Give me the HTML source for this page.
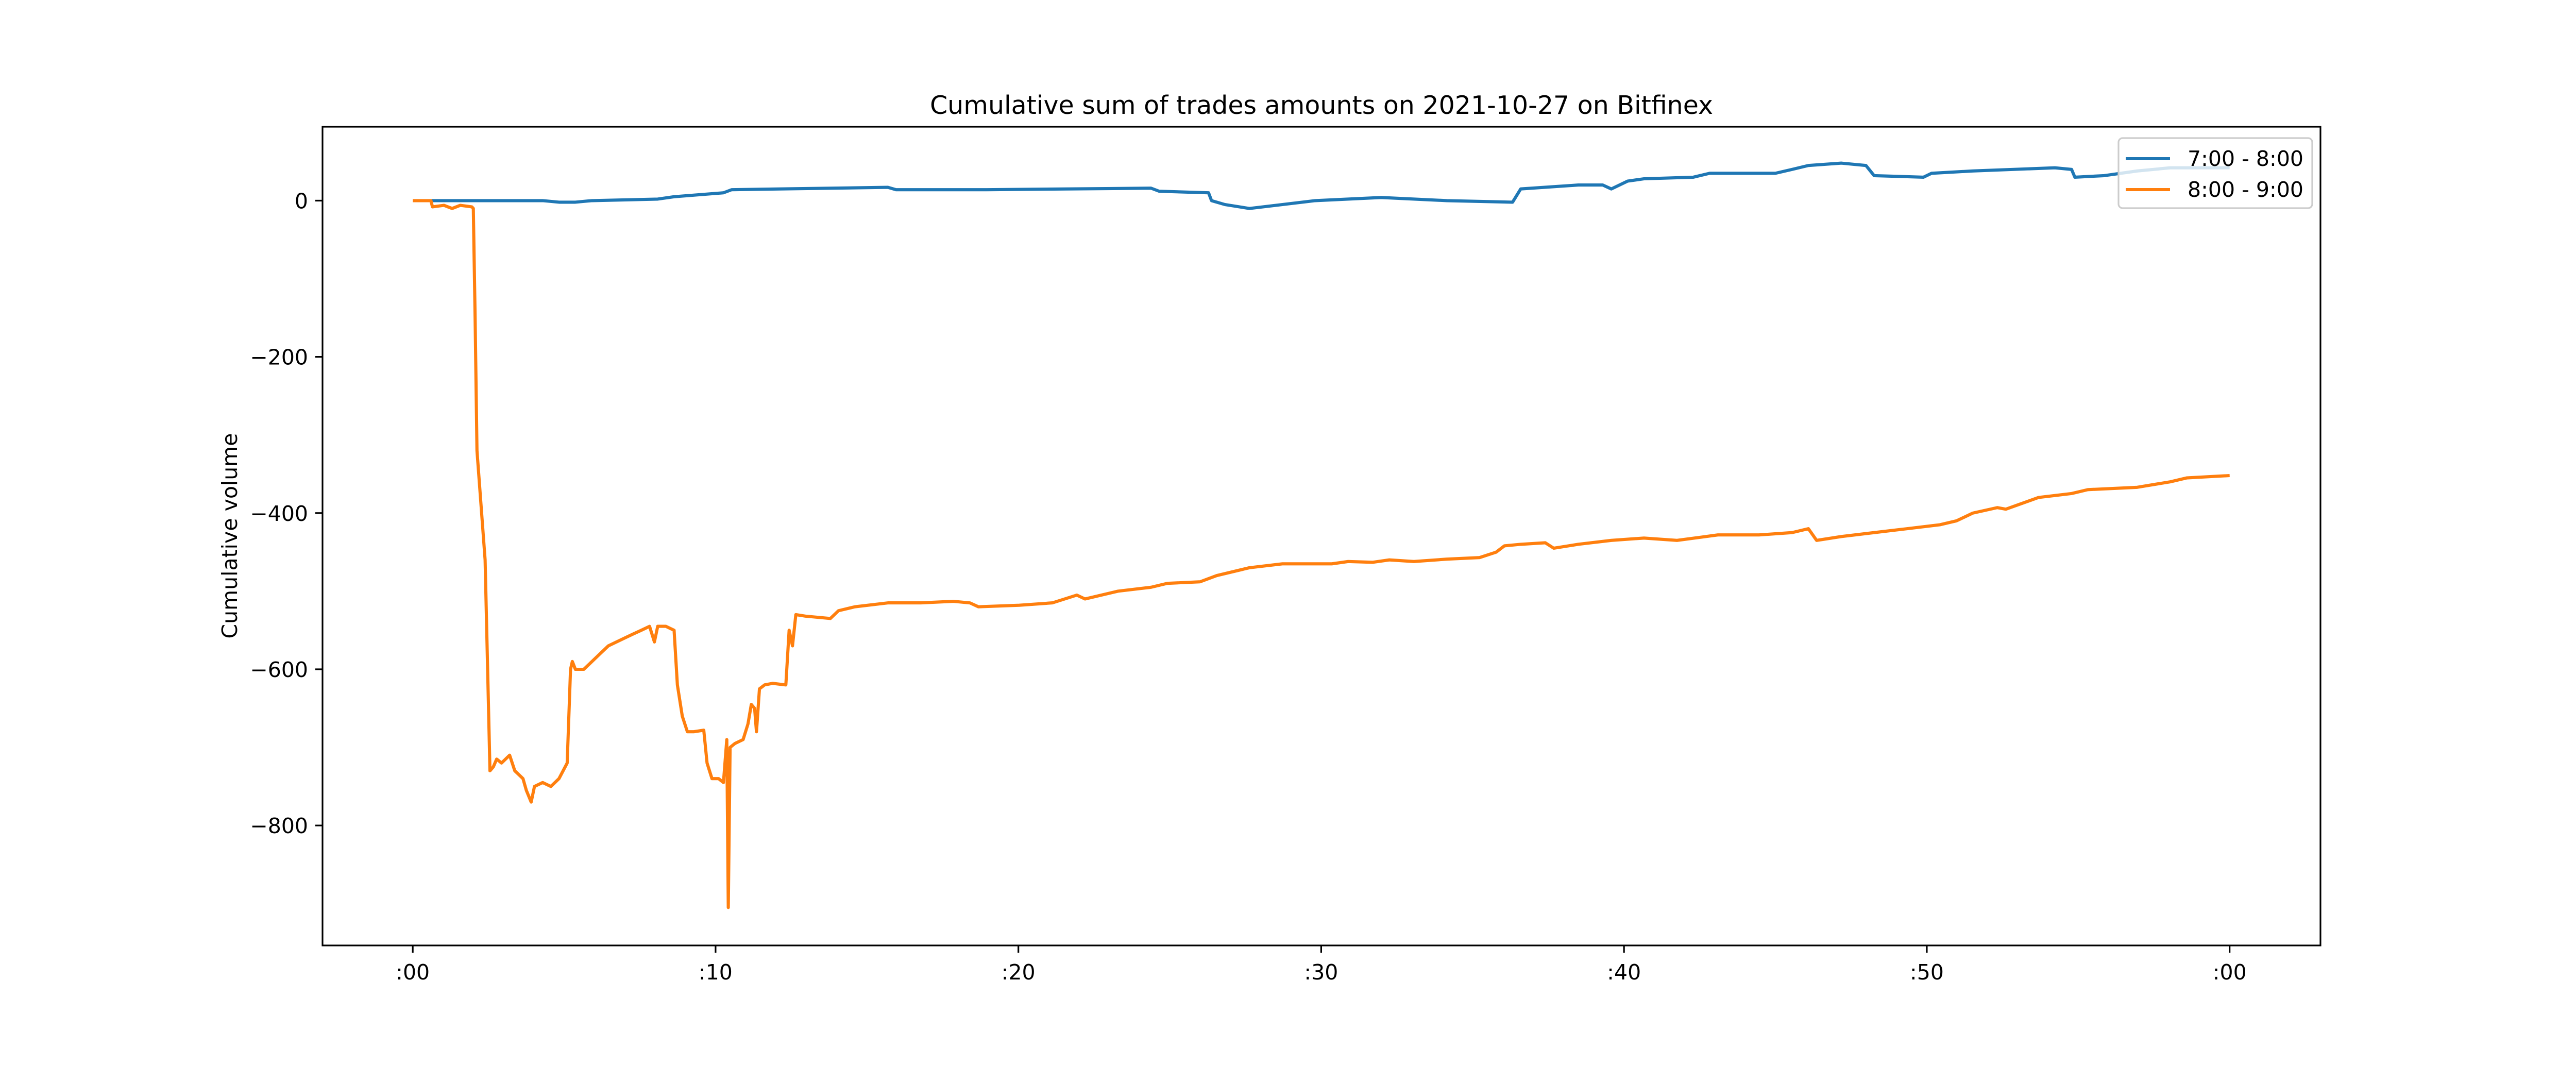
<!DOCTYPE html>
<html><head><meta charset="utf-8"><style>
body{margin:0;background:#fff}
svg{display:block;font-family:"DejaVu Sans","Liberation Sans",sans-serif}
</style></head><body>
<svg id="chart" width="5100" height="2100" viewBox="0 0 5100 2100" xmlns="http://www.w3.org/2000/svg">
<rect width="5100" height="2100" fill="#fff"/>
<text x="2565" y="221" font-size="49" text-anchor="middle">Cumulative sum of trades amounts on 2021-10-27 on Bitfinex</text>
<text x="0" y="0" font-size="41" text-anchor="middle" transform="translate(460,1040) rotate(-90)">Cumulative volume</text>
<g id="ticks"></g>
<g id="series"></g>
<rect x="626" y="246" width="3878" height="1589" fill="none" stroke="#000" stroke-width="3.2"/>
<g>
<rect x="4112" y="268" width="376" height="136" rx="8" fill="#fff" fill-opacity="0.8" stroke="#ccc" stroke-width="3.2"/>
<line x1="4126" y1="308" x2="4212" y2="308" stroke="#1f77b4" stroke-width="6.1"/>
<text x="4246" y="322" font-size="41">7:00 - 8:00</text>
<line x1="4126" y1="368" x2="4212" y2="368" stroke="#ff7f0e" stroke-width="6.1"/>
<text x="4246" y="382" font-size="41">8:00 - 9:00</text>
</g>
</svg>
<script>
const xTicks=[0,10,20,30,40,50,60];
const xTickLabels=[":00",":10",":20",":30",":40",":50",":00"];
const yTicks=[0,-200,-400,-600,-800];
const yTickLabels=["0","\u2212200","\u2212400","\u2212600","\u2212800"];
const blueT=[0.6,4.29,4.83,5.37,5.92,8.09,8.63,10.26,10.53,12.16,15.69,15.96,18.95,21.66,24.38,24.65,26.28,26.38,26.82,27.63,28.72,29.8,31.98,34.15,36.32,36.59,38.49,39.3,39.58,40.12,40.66,42.29,42.83,45.0,45.55,46.09,47.18,47.99,48.26,49.89,50.16,51.52,54.23,54.78,54.89,55.86,56.95,58.04,60];
const blueV=[0,0,-2,-2,0,2,5,10,14,15,17,14,14,15,16,12,10,0,-5,-10,-5,0,4,0,-2,15,20,20,15,25,28,30,35,35,40,45,48,45,32,30,35,38,42,40,30,32,38,42,42];
const orangeT=[0,0.6,0.65,1.03,1.3,1.57,1.95,2.0,2.06,2.12,2.39,2.55,2.66,2.77,2.93,3.2,3.37,3.64,3.75,3.91,4.02,4.29,4.56,4.83,5.1,5.21,5.27,5.37,5.65,5.92,6.19,6.46,7.0,7.27,7.55,7.82,7.98,8.09,8.36,8.63,8.74,8.9,9.07,9.28,9.61,9.72,9.88,10.1,10.26,10.37,10.42,10.48,10.64,10.91,11.07,11.18,11.29,11.35,11.45,11.62,11.89,12.32,12.43,12.54,12.65,12.97,13.79,14.06,14.6,15.69,16.78,17.86,18.4,18.68,20.03,21.12,21.93,22.2,23.29,24.38,24.92,26.0,26.55,27.63,28.72,30.35,30.89,31.7,32.25,33.06,34.15,35.23,35.78,36.05,36.59,37.4,37.68,38.49,39.58,40.66,41.75,43.1,44.46,45.55,46.09,46.36,47.18,48.26,49.35,50.43,50.98,51.52,52.33,52.61,53.69,54.78,55.32,56.95,58.04,58.58,60];
const orangeV=[0,0,-8,-6,-10,-6,-8,-10,-150,-320,-460,-730,-725,-715,-720,-710,-730,-740,-755,-770,-750,-745,-750,-740,-720,-600,-590,-600,-600,-590,-580,-570,-560,-555,-550,-545,-565,-545,-545,-550,-620,-660,-680,-680,-678,-720,-740,-740,-745,-690,-905,-700,-695,-690,-670,-645,-650,-680,-625,-620,-618,-620,-550,-570,-530,-532,-535,-525,-520,-515,-515,-513,-515,-520,-518,-515,-505,-510,-500,-495,-490,-488,-480,-470,-465,-465,-462,-463,-460,-462,-459,-457,-450,-442,-440,-438,-445,-440,-435,-432,-435,-428,-428,-425,-420,-435,-430,-425,-420,-415,-410,-400,-393,-395,-380,-375,-370,-367,-360,-355,-352];
const X0=626,X1=4504,Y0=246,Y1=1835,XMIN=-2.98,XMAX=63.0,YMIN=-953.6,YMAX=94.6;
function sx(m){return X0+(m-XMIN)/(XMAX-XMIN)*(X1-X0);}
function sy(v){return Y1-(v-YMIN)/(YMAX-YMIN)*(Y1-Y0);}
const NS="http://www.w3.org/2000/svg";
const tg=document.getElementById("ticks");
xTicks.forEach((t,i)=>{
 const l=document.createElementNS(NS,"line");
 
 
 l.setAttribute("x1",sx(t));l.setAttribute("x2",sx(t));l.setAttribute("y1",Y1);l.setAttribute("y2",Y1+14);
 l.setAttribute("stroke","#000");l.setAttribute("stroke-width","3.2");tg.appendChild(l);
 const tx=document.createElementNS(NS,"text");
 
 
 tx.setAttribute("x",sx(t));tx.setAttribute("y",Y1+66);tx.setAttribute("font-size","41");tx.setAttribute("text-anchor","middle");
 tx.textContent=xTickLabels[i];tg.appendChild(tx);
});
yTicks.forEach((t,i)=>{
 const l=document.createElementNS(NS,"line");
 
 
 l.setAttribute("x1",X0-14);l.setAttribute("x2",X0);l.setAttribute("y1",sy(t));l.setAttribute("y2",sy(t));
 l.setAttribute("stroke","#000");l.setAttribute("stroke-width","3.2");tg.appendChild(l);
 const tx=document.createElementNS(NS,"text");
 
 
 tx.setAttribute("x",X0-28);tx.setAttribute("y",sy(t)+15);tx.setAttribute("font-size","41");tx.setAttribute("text-anchor","end");
 tx.textContent=yTickLabels[i];tg.appendChild(tx);
});
const sg=document.getElementById("series");
function draw(T,V,color,name){
 const p=document.createElementNS(NS,"polyline");
 
 
 p.setAttribute("points",T.map((t,i)=>sx(t).toFixed(1)+","+sy(V[i]).toFixed(1)).join(" "));
 p.setAttribute("fill","none");p.setAttribute("stroke",color);p.setAttribute("stroke-width","6.1");p.setAttribute("stroke-linejoin","round");
 sg.appendChild(p);
}
draw(blueT,blueV,"#1f77b4","series-7-8");
draw(orangeT,orangeV,"#ff7f0e","series-8-9");
</script>
</body></html>
